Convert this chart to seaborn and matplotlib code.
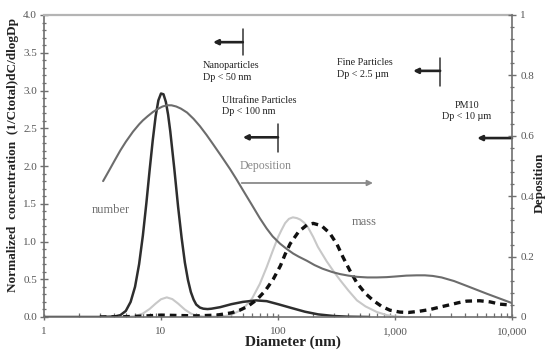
import matplotlib
matplotlib.use("Agg")
import matplotlib.pyplot as plt
from matplotlib.ticker import FixedLocator, FixedFormatter, MultipleLocator, LogLocator, NullFormatter, FormatStrFormatter
import seaborn as sns

# Number distribution (left axis, normalized)
number_d = [1, 3, 4, 4.5, 5, 5.5, 6, 6.5, 7, 7.5, 8, 8.5, 9, 9.5, 10, 10.5, 11, 11.5, 12,
            13, 14, 15, 16, 17, 18, 19, 20, 21.5, 23, 25, 27, 32, 40, 50, 65, 80, 100, 130, 170, 220, 300, 400, 600]
number_v = [0, 0, 0.006, 0.025, 0.08, 0.2, 0.4, 0.7, 1.08, 1.51, 1.95, 2.34, 2.66, 2.87, 2.96, 2.95, 2.85, 2.68, 2.46,
            1.96, 1.46, 1.05, 0.72, 0.49, 0.33, 0.23, 0.165, 0.125, 0.11, 0.105, 0.11, 0.13, 0.17, 0.2, 0.22, 0.21,
            0.17, 0.12, 0.07, 0.035, 0.013, 0.004, 0]

# Surface distribution (left axis, normalized)
surface_d = [4, 5, 6, 7, 8, 9, 10, 11.2, 12.5, 14, 16, 18, 20, 23, 30, 35, 40, 50, 60, 70, 80, 90, 100, 107, 115,
             124, 134, 145, 155, 167, 180, 200, 219, 260, 300, 339, 400, 473, 560, 700, 850, 1000, 1200]
surface_v = [0, 0.002, 0.012, 0.046, 0.107, 0.178, 0.235, 0.26, 0.237, 0.178, 0.098, 0.046, 0.02, 0.006, 0.005, 0.012,
             0.03, 0.104, 0.244, 0.44, 0.66, 0.873, 1.056, 1.15, 1.243, 1.3, 1.32, 1.31, 1.29, 1.25, 1.19, 1.06, 0.93,
             0.74, 0.6, 0.49, 0.35, 0.22, 0.14, 0.066, 0.025, 0.008, 0]

# Mass distribution (left axis, normalized)
mass_d = [3, 5, 7, 10, 14, 20, 30, 40, 47, 55, 66, 78, 91, 105, 115, 127, 150, 177, 200, 235, 277, 320, 360, 410,
          473, 560, 650, 770, 905, 1100, 1300, 1600, 2000, 2400, 3000, 3500, 4100, 5300, 6500, 7900, 9500, 10000]
mass_v = [0, 0.004, 0.012, 0.025, 0.02, 0.015, 0.025, 0.055, 0.09, 0.14, 0.23, 0.35, 0.5, 0.68, 0.83, 0.97, 1.13,
          1.22, 1.24, 1.21, 1.11, 0.96, 0.79, 0.62, 0.45, 0.31, 0.22, 0.14, 0.09, 0.065, 0.06, 0.075, 0.1, 0.13,
          0.165, 0.19, 0.21, 0.215, 0.2, 0.17, 0.16, 0.155]

# Total deposition fraction (right axis)
dep_d = [3.2, 3.4, 3.66, 4, 4.5, 5, 5.77, 6.5, 7, 7.7, 8.54, 9.5, 10.3, 11.2, 12.3, 13.5, 14.8, 16.7, 19, 21.5,
         24.5, 28, 33, 38.9, 44, 50, 59, 70, 80, 90, 104, 119, 135, 150, 177, 205, 240, 290, 340, 400, 473, 580,
         700, 850, 1000, 1250, 1540, 1800, 2100, 2500, 3200, 4100, 5000, 6100, 8000, 10000]
dep_v = [0.45, 0.468, 0.49, 0.517, 0.552, 0.58, 0.614, 0.638, 0.651, 0.665, 0.679, 0.69, 0.697, 0.701, 0.701,
         0.697, 0.69, 0.677, 0.656, 0.632, 0.603, 0.571, 0.531, 0.49, 0.457, 0.421, 0.375, 0.327, 0.293, 0.267,
         0.243, 0.225, 0.21, 0.2, 0.186, 0.172, 0.16, 0.149, 0.142, 0.137, 0.133, 0.131, 0.131, 0.132, 0.134,
         0.137, 0.138, 0.138, 0.136, 0.131, 0.119, 0.103, 0.09, 0.077, 0.06, 0.046]

x_ticks = [1, 10, 100, 1000, 10000]
x_tick_labels = ["1", "10", "100", "1,000", "10,000"]
dep_ticks = [0, 0.2, 0.4, 0.6, 0.8, 1.0]
dep_tick_labels = ["0", "0.2", "0.4", "0.6", "0.8", "1"]

sns.set_style("ticks")
plt.rcParams["font.family"] = ["Liberation Serif", "DejaVu Serif"]

W, H = 551, 353
fig = plt.figure(figsize=(W / 100, H / 100), dpi=100)
ax = fig.add_axes([44 / W, 1 - 317 / H, 468 / W, 302 / H])
ax.set_xscale("log")
ax.set_xlim(1, 10000)
ax.set_ylim(0, 4)
ax2 = ax.twinx()
ax2.set_ylim(0, 1)

sns.lineplot(x=surface_d, y=surface_v, ax=ax, color="#c8c8c8", lw=1.5)
sns.lineplot(x=number_d, y=number_v, ax=ax, color="#2e2e2e", lw=1.8)
sns.lineplot(x=mass_d, y=mass_v, ax=ax, color="#111111", lw=2.4)
ax.lines[-1].set_dashes([2.0, 1.5])
sns.lineplot(x=dep_d, y=dep_v, ax=ax2, color="#6c6c6c", lw=1.5)

ax.set_xlim(1, 10000)
ax.set_ylim(0, 4)
ax2.set_ylim(0, 1)

spine_c = "#6f6f6f"
for s in ["left", "bottom"]:
    ax.spines[s].set_color(spine_c)
    ax.spines[s].set_linewidth(1.2)
ax.spines["top"].set_color("#b4b4b4")
ax.spines["top"].set_linewidth(1.6)
ax.spines["right"].set_visible(False)
for s in ["left", "bottom", "top"]:
    ax2.spines[s].set_visible(False)
ax2.spines["right"].set_color(spine_c)
ax2.spines["right"].set_linewidth(1.2)

lab_c = "#555555"
ax.xaxis.set_major_locator(FixedLocator(x_ticks))
ax.xaxis.set_major_formatter(FixedFormatter(x_tick_labels))
ax.xaxis.set_minor_locator(LogLocator(base=10, subs=range(2, 10)))
ax.xaxis.set_minor_formatter(NullFormatter())
ax.tick_params(axis="x", which="major", direction="inout", length=5, width=1, color=spine_c,
               labelsize=8, labelcolor=lab_c, pad=5)
ax.tick_params(axis="x", which="minor", direction="in", length=3, width=0.9, color=spine_c)

ax.yaxis.set_major_locator(MultipleLocator(0.5))
ax.yaxis.set_minor_locator(MultipleLocator(0.1))
ax.yaxis.set_major_formatter(FormatStrFormatter("%.1f"))
ax.tick_params(axis="y", which="major", direction="inout", length=6, width=1, color=spine_c,
               labelsize=8, labelcolor=lab_c, pad=2)
ax.tick_params(axis="y", which="minor", direction="inout", length=3, width=0.9, color=spine_c)

ax2.yaxis.set_major_locator(FixedLocator(dep_ticks))
ax2.yaxis.set_major_formatter(FixedFormatter(dep_tick_labels))
ax2.yaxis.set_minor_locator(MultipleLocator(0.04))
ax2.tick_params(axis="y", which="major", direction="inout", length=6, width=1, color=spine_c,
                labelsize=8, labelcolor=lab_c, pad=3)
ax2.tick_params(axis="y", which="minor", direction="inout", length=3, width=0.9, color=spine_c)

ax.set_xlabel("Diameter (nm)", fontsize=11, fontweight="bold", color="#222222")
ax.xaxis.set_label_coords(0.532, -0.06)
ax.set_ylabel("Normalized  concentration  (1/Ctotal)dC/dlogDp", fontsize=9.5, fontweight="bold", color="#222222")
ax.yaxis.set_label_coords(-0.053, 0.536)
ax2.set_ylabel("Deposition", fontsize=9.5, fontweight="bold", color="#222222", rotation=90)
ax2.yaxis.set_label_coords(1.047, 0.444)

txt_c = "#222222"
fs = 7.3
ax.text(22.9, 3.25, "Nanoparticles\nDp < 50 nm", fontsize=fs, color=txt_c, va="center", ha="left", linespacing=1.35)
ax.text(33.2, 2.795, "Ultrafine Particles\nDp < 100 nm", fontsize=fs, color=txt_c, va="center", ha="left", linespacing=1.35)
ax.text(319, 3.29, "Fine Particles\nDp < 2.5 µm", fontsize=fs, color=txt_c, va="center", ha="left", linespacing=1.35)
ax.text(4125, 2.73, "PM10\nDp < 10 µm", fontsize=fs, color=txt_c, va="center", ha="center",
        multialignment="center", linespacing=1.35)
ax.text(47.3, 2.0, "Deposition", fontsize=8.5, color="#8a8a8a", va="center", ha="left")
ax.text(2.57, 1.42, "number", fontsize=9, color="#707070", va="center", ha="left")
ax.text(429, 1.26, "mass", fontsize=9, color="#707070", va="center", ha="left")

arrow_kw = dict(arrowstyle="-|>", mutation_scale=7, lw=1.9, color="#222222", shrinkA=0, shrinkB=0)
# size-class cutoffs: vertical bar at the cutoff, arrow pointing to smaller sizes
cutoffs = [(50, 27.8, 3.64, 3.47, 3.81), (100, 50, 2.38, 2.19, 2.56), (2430, 1426, 3.26, 3.06, 3.43)]
for xc, xe, ya, y0, y1 in cutoffs:
    ax.plot([xc, xc], [y0, y1], color="#333333", lw=1.1)
    ax.annotate("", xy=(xe, ya), xytext=(xc, ya), arrowprops=arrow_kw)
ax.annotate("", xy=(5030, 2.37), xytext=(10000, 2.37), arrowprops=arrow_kw, annotation_clip=False)
ax.annotate("", xy=(648, 1.775), xytext=(49, 1.775),
            arrowprops=dict(arrowstyle="-|>", mutation_scale=8, lw=1.3, color="#8a8a8a", shrinkA=0, shrinkB=0))

fig.savefig("out.png", dpi=100)
